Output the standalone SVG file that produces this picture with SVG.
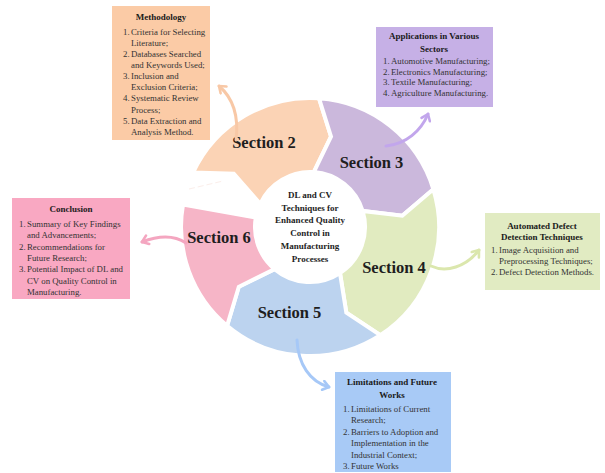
<svg xmlns="http://www.w3.org/2000/svg" width="605" height="473" viewBox="0 0 605 473">
  <style>
    .seg { stroke: #ffffff; stroke-width: 4; stroke-linejoin: miter; }
    .sec { font-family: "Liberation Serif", "Times New Roman", serif; font-weight: bold; font-size: 16.5px; fill: #1e1e1e; text-anchor: middle; }
    .hub { font-family: "Liberation Serif", "Times New Roman", serif; font-weight: bold; font-size: 9px; fill: #1e1e1e; text-anchor: middle; }
    .ttl { font-family: "Liberation Serif", "Times New Roman", serif; font-weight: bold; font-size: 9px; fill: #1a1a1a; text-anchor: middle; }
    .itm { font-family: "Liberation Serif", "Times New Roman", serif; font-size: 8.8px; fill: #333333; }
    .link { fill: none; stroke-width: 3; stroke-linecap: round; }
  </style>
  <defs>
    <marker id="ah-peach" viewBox="-8 -6 10 12" refX="0" refY="0" markerWidth="10" markerHeight="12" markerUnits="userSpaceOnUse" orient="auto">
      <path d="M -6 -4.5 L 0 0 L -6 4.5" fill="none" stroke="#f8c8a6" stroke-width="2.6" stroke-linecap="round" stroke-linejoin="round"/>
    </marker>
    <marker id="ah-lilac" viewBox="-8 -6 10 12" refX="0" refY="0" markerWidth="10" markerHeight="12" markerUnits="userSpaceOnUse" orient="auto">
      <path d="M -6 -4.5 L 0 0 L -6 4.5" fill="none" stroke="#c2a6ec" stroke-width="2.6" stroke-linecap="round" stroke-linejoin="round"/>
    </marker>
    <marker id="ah-green" viewBox="-8 -6 10 12" refX="0" refY="0" markerWidth="10" markerHeight="12" markerUnits="userSpaceOnUse" orient="auto">
      <path d="M -6 -4.5 L 0 0 L -6 4.5" fill="none" stroke="#dbe7ad" stroke-width="2.6" stroke-linecap="round" stroke-linejoin="round"/>
    </marker>
    <marker id="ah-blue" viewBox="-8 -6 10 12" refX="0" refY="0" markerWidth="10" markerHeight="12" markerUnits="userSpaceOnUse" orient="auto">
      <path d="M -6 -4.5 L 0 0 L -6 4.5" fill="none" stroke="#a6c8f7" stroke-width="2.6" stroke-linecap="round" stroke-linejoin="round"/>
    </marker>
    <marker id="ah-pink" viewBox="-8 -6 10 12" refX="0" refY="0" markerWidth="10" markerHeight="12" markerUnits="userSpaceOnUse" orient="auto">
      <path d="M -6 -4.5 L 0 0 L -6 4.5" fill="none" stroke="#f4a6c0" stroke-width="2.6" stroke-linecap="round" stroke-linejoin="round"/>
    </marker>
  </defs>

  <rect width="605" height="473" fill="#ffffff"/>

  <!-- ring of chevron segments around the hub -->
  <g id="ring">
    <g id="section-2">
      <path class="seg" fill="#fbd3b5" d="M 193.1 172.5 A 129 129 0 0 1 319.0 98.3 L 331 136.5 L 313.8 172.1 A 55 55 0 0 0 260.2 203.8 L 233.8 173.7 Z"/>
      <text class="sec" x="264" y="148">Section 2</text>
    </g>
    <g id="section-3">
      <path class="seg" fill="#cbb8dc" d="M 319.0 98.3 A 129 129 0 0 1 433.4 189.3 L 402.3 215.7 L 362.6 210.9 A 55 55 0 0 0 313.8 172.1 L 331 136.5 Z"/>
      <text class="sec" x="371.5" y="168">Section 3</text>
    </g>
    <g id="section-4">
      <path class="seg" fill="#e1ebc0" d="M 433.4 189.3 A 129 129 0 0 1 380.3 335.2 L 346.3 312.6 L 340.0 273.1 A 55 55 0 0 0 362.6 210.9 L 402.3 215.7 Z"/>
      <text class="sec" x="394" y="273">Section 4</text>
    </g>
    <g id="section-5">
      <path class="seg" fill="#bcd3ef" d="M 380.3 335.2 A 129 129 0 0 1 227.1 325.8 L 238.8 286.8 L 274.6 269.1 A 55 55 0 0 0 340.0 273.1 L 346.3 312.6 Z"/>
      <text class="sec" x="289.5" y="318">Section 5</text>
    </g>
    <g id="section-6">
      <path class="seg" fill="#f6b5c7" d="M 227.1 325.8 A 129 129 0 0 1 183.0 204.6 L 255.8 217.5 A 55 55 0 0 0 274.6 269.1 L 238.8 286.8 Z"/>
      <text class="sec" x="219" y="243">Section 6</text>
    </g>
    <line x1="189" y1="189" x2="223" y2="181" stroke="#fbeeea" stroke-width="1" stroke-dasharray="6 3"/>
  </g>

  <!-- hub title -->
  <g id="hub">
    <text class="hub" x="310" y="198">DL and CV</text>
    <text class="hub" x="310" y="210.7">Techniques for</text>
    <text class="hub" x="310" y="223.4">Enhanced Quality</text>
    <text class="hub" x="310" y="236.1">Control in</text>
    <text class="hub" x="310" y="248.8">Manufacturing</text>
    <text class="hub" x="310" y="261.5">Processes</text>
  </g>

  <!-- connectors from each section to its detail box -->
  <g id="connectors">
    <path class="link" stroke="#f8c8a6" d="M 236 140 C 239 116, 233 98, 219 86" marker-end="url(#ah-peach)"/>
    <path class="link" stroke="#c2a6ec" d="M 386 146 C 406 144, 421 131, 428 114" marker-end="url(#ah-lilac)"/>
    <path class="link" stroke="#dbe7ad" d="M 431 266 C 446 273, 466 267, 479 250" marker-end="url(#ah-green)"/>
    <path class="link" stroke="#a6c8f7" d="M 297 340 C 298 364, 310 382, 329 387" marker-end="url(#ah-blue)"/>
    <path class="link" stroke="#f4a6c0" d="M 186 243 C 174 235, 160 235, 142 242" marker-end="url(#ah-pink)"/>
  </g>

  <g id="methodology">
    <rect x="112" y="6" width="98" height="134" fill="#fbcba6"/>
    <text class="ttl" x="161" y="20">Methodology</text>
    <text class="itm" x="123" y="34.8">1.</text><text class="itm" x="131" y="34.8">Criteria for Selecting</text>
    <text class="itm" x="131" y="45.9">Literature;</text>
    <text class="itm" x="123" y="57">2.</text><text class="itm" x="131" y="57">Databases Searched</text>
    <text class="itm" x="131" y="68.1">and Keywords Used;</text>
    <text class="itm" x="123" y="79.2">3.</text><text class="itm" x="131" y="79.2">Inclusion and</text>
    <text class="itm" x="131" y="90.3">Exclusion Criteria;</text>
    <text class="itm" x="123" y="101.4">4.</text><text class="itm" x="131" y="101.4">Systematic Review</text>
    <text class="itm" x="131" y="112.5">Process;</text>
    <text class="itm" x="123" y="123.6">5.</text><text class="itm" x="131" y="123.6">Data Extraction and</text>
    <text class="itm" x="131" y="134.7">Analysis Method.</text>
  </g>

  <g id="applications">
    <rect x="376" y="27" width="117" height="80" fill="#c6b0e6"/>
    <text class="ttl" x="434" y="39">Applications in Various</text>
    <text class="ttl" x="434" y="51.5">Sectors</text>
    <text class="itm" x="383" y="64">1.</text><text class="itm" x="391" y="64">Automotive Manufacturing;</text>
    <text class="itm" x="383" y="74.5">2.</text><text class="itm" x="391" y="74.5">Electronics Manufacturing;</text>
    <text class="itm" x="383" y="85">3.</text><text class="itm" x="391" y="85">Textile Manufacturing;</text>
    <text class="itm" x="383" y="95.5">4.</text><text class="itm" x="391" y="95.5">Agriculture Manufacturing.</text>
  </g>

  <g id="automated-defect">
    <rect x="485" y="213" width="115" height="77" fill="#e1ebc2"/>
    <text class="ttl" x="542" y="228.5">Automated Defect</text>
    <text class="ttl" x="542" y="239.5">Detection Techniques</text>
    <text class="itm" x="491" y="253">1.</text><text class="itm" x="499" y="253">Image Acquisition and</text>
    <text class="itm" x="499" y="264">Preprocessing Techniques;</text>
    <text class="itm" x="491" y="275">2.</text><text class="itm" x="499" y="275">Defect Detection Methods.</text>
  </g>

  <g id="conclusion">
    <rect x="12" y="198" width="118" height="101" fill="#f9a8c2"/>
    <text class="ttl" x="71" y="211.5">Conclusion</text>
    <text class="itm" x="19" y="227">1.</text><text class="itm" x="27" y="227">Summary of Key Findings</text>
    <text class="itm" x="27" y="238.3">and Advancements;</text>
    <text class="itm" x="19" y="249.7">2.</text><text class="itm" x="27" y="249.7">Recommendations for</text>
    <text class="itm" x="27" y="261">Future Research;</text>
    <text class="itm" x="19" y="272.3">3.</text><text class="itm" x="27" y="272.3">Potential Impact of DL and</text>
    <text class="itm" x="27" y="283.7">CV on Quality Control in</text>
    <text class="itm" x="27" y="295">Manufacturing.</text>
  </g>

  <g id="limitations">
    <rect x="335" y="372" width="116" height="100" fill="#a8caf6"/>
    <text class="ttl" x="392" y="384.5">Limitations and Future</text>
    <text class="ttl" x="392" y="397.5">Works</text>
    <text class="itm" x="343" y="412">1.</text><text class="itm" x="351" y="412">Limitations of Current</text>
    <text class="itm" x="351" y="423.4">Research;</text>
    <text class="itm" x="343" y="434.8">2.</text><text class="itm" x="351" y="434.8">Barriers to Adoption and</text>
    <text class="itm" x="351" y="446.2">Implementation in the</text>
    <text class="itm" x="351" y="457.6">Industrial Context;</text>
    <text class="itm" x="343" y="469">3.</text><text class="itm" x="351" y="469">Future Works</text>
  </g>
</svg>
